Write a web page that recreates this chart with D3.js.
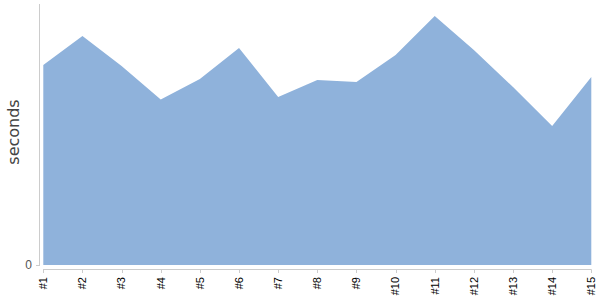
<!DOCTYPE html>
<html><head><meta charset="utf-8">
<script src="https://cdn.jsdelivr.net/npm/d3@7"></script>
<style>body{margin:0;background:#fff}svg{display:block;font-family:"Liberation Sans",Arial,sans-serif}</style>
</head><body>
<svg id="c" width="600" height="300"></svg>
<script>
const categories = ["#1","#2","#3","#4","#5","#6","#7","#8","#9","#10","#11","#12","#13","#14","#15"];
const seconds = [20.0,22.9,19.9,16.55,18.6,21.7,16.8,18.5,18.3,21.0,24.9,21.5,17.8,13.9,18.8];
const yTicks = [0];
const yMax = 26.1;

const svg = d3.select("#c");
const x = d3.scalePoint().domain(categories).range([43.3, 591.3]);
const y = d3.scaleLinear().domain([0, yMax]).range([265, 4]);

const area = d3.area().x((d,i)=>x(categories[i])).y0(y(0)).y1(d=>y(d)).curve(d3.curveLinear);
svg.append("path").datum(seconds).attr("d", area).attr("fill", "#8fb2db");

// y axis
const ya = svg.append("g").attr("transform","translate(39,0)");
ya.append("line").attr("x1",0.5).attr("x2",0.5).attr("y1",4).attr("y2",266).attr("stroke","#ccc");
yTicks.forEach(t=>{
  ya.append("line").attr("x1",-3).attr("x2",0.5).attr("y1",Math.round(y(t))+0.5).attr("y2",Math.round(y(t))+0.5).attr("stroke","#ccc");
  ya.append("text").attr("x",-7).attr("y",y(t)).attr("dy","0.35em").attr("text-anchor","end")
    .attr("font-size",12).attr("fill","#555").text(t);
});
svg.append("text").attr("transform","translate(19,132) rotate(-90)").attr("text-anchor","middle")
  .attr("font-family","DejaVu Sans").attr("font-size",16).attr("fill","#444").text("seconds");

// x axis
const xa = svg.append("g");
xa.append("line").attr("x1",43).attr("x2",591.5).attr("y1",269.5).attr("y2",269.5).attr("stroke","#ccc");
categories.forEach(c=>{
  const px = Math.round(x(c))+0.5;
  xa.append("line").attr("x1",px).attr("x2",px).attr("y1",269.5).attr("y2",273).attr("stroke","#ccc");
  xa.append("text").attr("transform",`translate(${x(c)},277) rotate(-90)`).attr("text-anchor","end")
    .attr("dy","0.35em").attr("font-size",11).attr("fill","#000").text(c);
});
</script>
</body></html>
